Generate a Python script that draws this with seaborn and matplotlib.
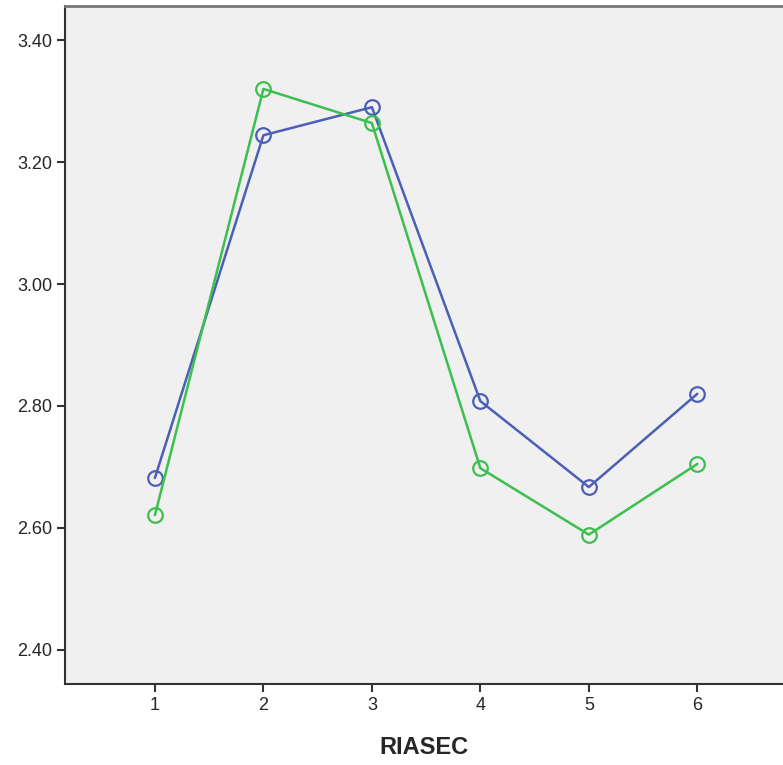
import pandas as pd
import seaborn as sns
import matplotlib.pyplot as plt

riasec = [1, 2, 3, 4, 5, 6]
group_a = [2.682, 3.244, 3.290, 2.808, 2.667, 2.820]
group_b = [2.621, 3.320, 3.264, 2.698, 2.589, 2.705]

sns.set_style("ticks")
plt.rcParams["font.family"] = ["Liberation Sans Narrow", "Liberation Sans", "DejaVu Sans"]

fig = plt.figure(figsize=(7.83, 7.65), dpi=100)
ax = fig.add_axes([65 / 783, 1 - 684 / 765, 1 - 65 / 783, 678 / 765])
ax.set_facecolor("#f0f0f0")

# blue series, then green
for vals, col in [(group_a, "#4a5fb5"), (group_b, "#3cbf4f")]:
    d = pd.DataFrame({"RIASEC": riasec, "mean": vals})
    sns.lineplot(data=d, x="RIASEC", y="mean", color=col,
                 marker="o", markersize=10.5, markerfacecolor="none",
                 markeredgecolor=col, markeredgewidth=1.6,
                 linewidth=1.8, ax=ax)

ax.set_xlim(0.171, 6.79)
ax.set_ylim(2.344, 3.456)
ax.set_xticks(riasec)
ax.set_yticks([2.4, 2.6, 2.8, 3.0, 3.2, 3.4])
ax.set_yticklabels(["2.40", "2.60", "2.80", "3.00", "3.20", "3.40"])
ax.set_ylabel("")
ax.set_xlabel("RIASEC", fontsize=17, fontweight="bold", labelpad=16)

for s in ["left", "bottom"]:
    ax.spines[s].set_color("#333333")
    ax.spines[s].set_linewidth(1.5)
ax.spines["top"].set_visible(True)
ax.spines["top"].set_color("#777777")
ax.spines["top"].set_linewidth(2)
ax.spines["right"].set_visible(False)
ax.tick_params(length=6, width=1.5, color="#333333", labelsize=13, pad=3)

fig.savefig("out.png", dpi=100)
